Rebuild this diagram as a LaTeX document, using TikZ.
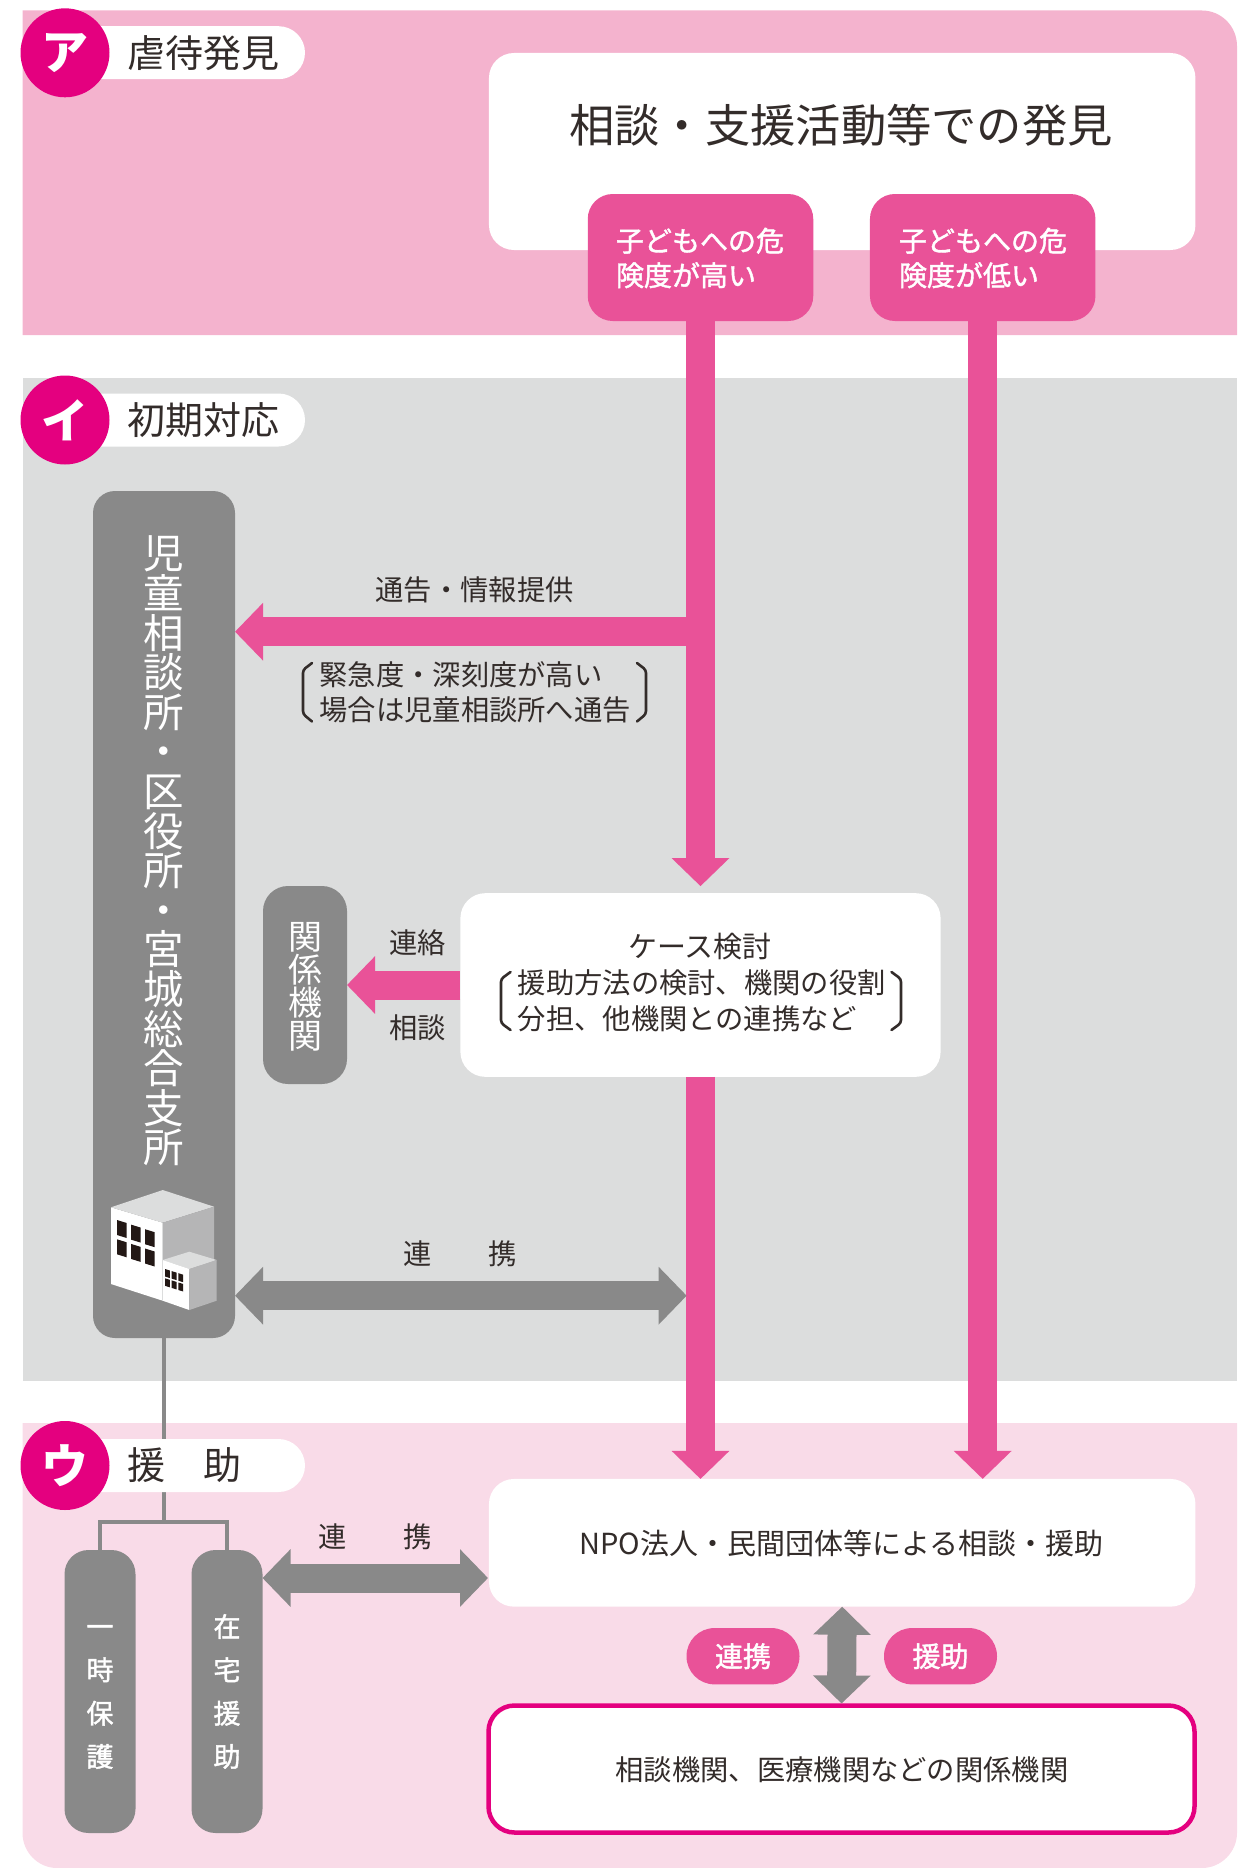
\documentclass[tikz,border=0pt]{standalone}
\usepackage{fontspec}
\setmainfont{Noto Sans CJK JP}
\newfontfamily\medfont{Noto Sans CJK JP}[FakeBold=1.5]
\lineskiplimit=-60pt
\usetikzlibrary{arrows.meta,calc}
\definecolor{panA}{HTML}{F4B3CE}
\definecolor{panB}{HTML}{DCDDDD}
\definecolor{panC}{HTML}{F9DBE8}
\definecolor{pinkc}{HTML}{E95298}
\definecolor{magc}{HTML}{E4007F}
\definecolor{greyc}{HTML}{898989}
\definecolor{inkc}{HTML}{332C2A}
\definecolor{winc}{HTML}{231815}
\definecolor{sidec}{HTML}{B5B5B6}
\newcommand{\fsz}[2]{\fontsize{#1}{#2}\selectfont}
\tikzset{
  base/.style={inner sep=0pt,outer sep=0pt},
  ink/.style={base,text=inkc,font=\fsz{28.3}{34}},
  boxw/.style={base,fill=white,rounded corners=25pt},
  boxg/.style={base,fill=greyc,rounded corners=24pt,text=white},
  boxp/.style={base,fill=pinkc,rounded corners=25pt},
  pilltitle/.style={base,fill=white,rounded corners=26.5pt,minimum width=240pt,minimum height=53pt},
  badge/.style={base,circle,fill=magc,minimum size=89pt,text=white,font=\fsz{47}{50}\bfseries},
  title/.style={base,anchor=west,text=inkc,font=\fsz{38}{42}},
  whitelab/.style={base,text=white,font=\medfont\fsz{28}{34}},
  pinkarrow/.style={line width=29pt,pinkc,-{Triangle[length=28pt,width=56pt]}},
  greyarrow/.style={line width=29pt,greyc,{Triangle[length=28pt,width=56pt]}-{Triangle[length=28pt,width=56pt]}},
  stem/.style={line width=4pt,greyc},
  brak/.style={line width=2.6pt,inkc,rounded corners=3pt,line cap=round}
}
\begin{document}
\begin{tikzpicture}[x=1pt,y=-1pt]
\useasboundingbox (0,0) rectangle (1249,1868);
% panels
\fill[panA] (22.5,335) -- (22.5,10.5) -- (1202,10.5) .. controls (1221,10.5) and (1237,26) .. (1237,46) -- (1237,335) -- cycle;
\fill[panB] (22.5,378) rectangle (1237,1381);
\fill[panC] (22.5,1423) -- (1237,1423) -- (1237,1833) .. controls (1237,1852) and (1221,1868) .. (1202,1868) -- (57,1868) .. controls (38,1868) and (22.5,1852) .. (22.5,1833) -- cycle;
% grey column nodes
\node[boxg,minimum width=142pt,minimum height=847pt,rounded corners=22pt] (jisou) at (164,914.5) {};
\node[base,text=white,font=\fsz{40.5}{39.6},align=center] (jisoutext) at (164,851) {児\\童\\相\\談\\所\\・\\区\\役\\所\\・\\宮\\城\\総\\合\\支\\所};
\node[boxg,minimum width=71pt,minimum height=283pt] (ichiji) at (100,1691.5) {};
\node[boxg,minimum width=71pt,minimum height=283pt] (zaitaku) at (227,1691.5) {};
\node[base,text=white,font=\medfont\fsz{27}{43.3},align=center] (ichijitext) at (100,1691.5) {\vphantom{時}一\\時\\保\\護};
\node[base,text=white,font=\medfont\fsz{27}{43.3},align=center] (zaitakutext) at (227,1691.5) {\vphantom{時}在\\宅\\援\\助};
% tree
\coordinate (fork) at (164,1521.7);
\draw[stem] (jisou.south) -- (fork);
\draw[stem,line join=miter] (ichiji.north) -- (ichiji.north |- fork) -- (zaitaku.north |- fork) -- (zaitaku.north);
% section pills
\node[pilltitle] (pa) at (185,52.7) {};
\node[pilltitle] (pb) at (185,420) {};
\node[pilltitle] (pc) at (185,1465.5) {};
\node[badge] (ca) at (65,52.8) {ア};
\node[badge] (cb) at (65,420) {イ};
\node[badge] (cc) at (65,1465.5) {ウ};
\node[title] (ta) at (127,52.7) {虐待発見};
\node[title] (tb) at (127,420) {初期対応};
\node[title] (tc) at (127,1465.5) {援　助};
% main boxes
\node[boxw,minimum width=706.5pt,minimum height=197pt] (soudan) at (842.2,151.5) {};
\node[base,text=inkc,font=\fsz{45.3}{50}] (soudantext) at (841,125) {相談・支援活動等での発見};
\node[boxp,minimum width=225.5pt,minimum height=127pt] (high) at (700.5,257.5) {};
\node[boxp,minimum width=225.5pt,minimum height=127pt] (low) at (982.7,257.5) {};
\node[whitelab,anchor=west,align=left,font=\medfont\fsz{28}{34.5}] (hightext) at (616,258) {子どもへの危\\険度が高い};
\node[whitelab,anchor=west,align=left,font=\medfont\fsz{28}{34.5}] (lowtext) at (899,258) {子どもへの危\\険度が低い};
\node[boxw,minimum width=480.2pt,minimum height=183.7pt] (case) at (700.5,985) {};
\node[boxg,minimum width=84pt,minimum height=198pt,rounded corners=25pt] (kankei) at (305,985) {};
\node[base,text=white,font=\fsz{34}{33},align=center] (kankeitext) at (305,986.5) {関\\係\\機\\関};
\node[boxw,minimum width=706.5pt,minimum height=127.7pt] (npo) at (842.2,1542.8) {};
\node[ink,font=\fsz{29}{34}] (npotext) at (841.5,1543.5) {NPO法人・民間団体等による相談・援助};
\node[base,fill=white,draw=magc,line width=4.5pt,rounded corners=26pt,minimum width=706pt,minimum height=127pt] (kanren) at (841.5,1769) {};
\node[ink] (kanrentext) at (842,1770) {相談機関、医療機関などの関係機関};
% arrows
\draw[pinkarrow,shorten >=7pt] (high.south) -- (case.north);
\draw[pinkarrow] (case.south) -- (case.south |- npo.north);
\draw[pinkarrow] (low.south) -- (low.south |- npo.north);
\coordinate (notify) at (686.7,631.7);
\draw[pinkarrow] (notify) -- (jisou.east |- notify);
\draw[pinkarrow] (case.west) -- (kankei.east);
\coordinate (linkup) at (686.7,1295.7);
\draw[greyarrow] (jisou.east |- linkup) -- (linkup);
\coordinate (linkdown) at (488,1578);
\draw[greyarrow] (zaitaku.east |- linkdown) -- (linkdown);
\draw[greyarrow,shorten >=2pt] (npo.south) -- (kanren.north);
% labels
\node[ink] (l1) at (474.7,590) {通告・情報提供};
\node[ink,anchor=west] (l2) at (319.5,675) {緊急度・深刻度が高い};
\node[ink,anchor=west] (l3) at (319.5,710) {場合は児童相談所へ通告};
\draw[brak] (312,663) -- (303,670) -- (303,714) -- (312,721.5);
\draw[brak] (637,663) -- (646,670) -- (646,714) -- (637,721.5);
\node[ink] (l4) at (417.7,943) {連絡};
\node[ink] (l5) at (417.7,1027.7) {相談};
\node[ink,font=\fsz{29}{34}] (l6) at (700,946.7) {ケース検討};
\node[ink,anchor=west] (l7) at (517.8,983) {援助方法の検討、機関の役割};
\node[ink,anchor=west] (l8) at (517.8,1019) {分担、他機関との連携など};
\draw[brak] (510.5,972) -- (501,979) -- (501,1023) -- (510.5,1030);
\draw[brak] (891.5,972) -- (901,979) -- (901,1023) -- (891.5,1030);
\node[ink] (l9) at (460.5,1254) {連　　携};
\node[ink] (l10) at (375.5,1536.7) {連　　携};
\node[base,fill=pinkc,rounded corners=28pt,minimum width=113pt,minimum height=56.3pt,text=white,font=\medfont\fsz{28}{34}] (p1) at (743,1656.2) {連携};
\node[base,fill=pinkc,rounded corners=28pt,minimum width=113pt,minimum height=56.3pt,text=white,font=\medfont\fsz{28}{34}] (p2) at (940.5,1656.2) {援助};
% building
\fill[white] (111,1207.3) -- (162.7,1222.7) -- (162.7,1300.7) -- (111,1284) -- cycle;
\fill[panB] (111,1207.3) -- (162.7,1190) -- (214,1206.7) -- (162.7,1222.7) -- cycle;
\fill[sidec] (162.7,1222.7) -- (214,1206.7) -- (214,1264) -- (162.7,1280) -- cycle;
\foreach \c in {0,1,2}{
  \foreach \r in {0,1}{
    \fill[winc] ({117+14*\c},{1220+4.6*\c+19.3*\r}) -- ++(9.7,3) -- ++(0,15) -- ++(-9.7,-3) -- cycle;
  }
}
\fill[panB] (162.7,1260) -- (189.3,1251.7) -- (216.7,1260) -- (189.3,1269) -- cycle;
\fill[white] (162.7,1260) -- (189.3,1269) -- (189.3,1310) -- (162.7,1300.7) -- cycle;
\fill[sidec] (189.3,1269) -- (216.7,1260) -- (216.7,1300.7) -- (189.3,1310) -- cycle;
\draw[panB,line width=.6pt] (162.7,1222.7) -- (162.7,1300.7);
\foreach \c in {0,1,2}{
  \foreach \r in {0,1}{
    \fill[winc] ({165+6.7*\c},{1269+2.1*\c+9.3*\r}) -- ++(4.8,1.5) -- ++(0,7.5) -- ++(-4.8,-1.5) -- cycle;
  }
}
\end{tikzpicture}
\end{document}
